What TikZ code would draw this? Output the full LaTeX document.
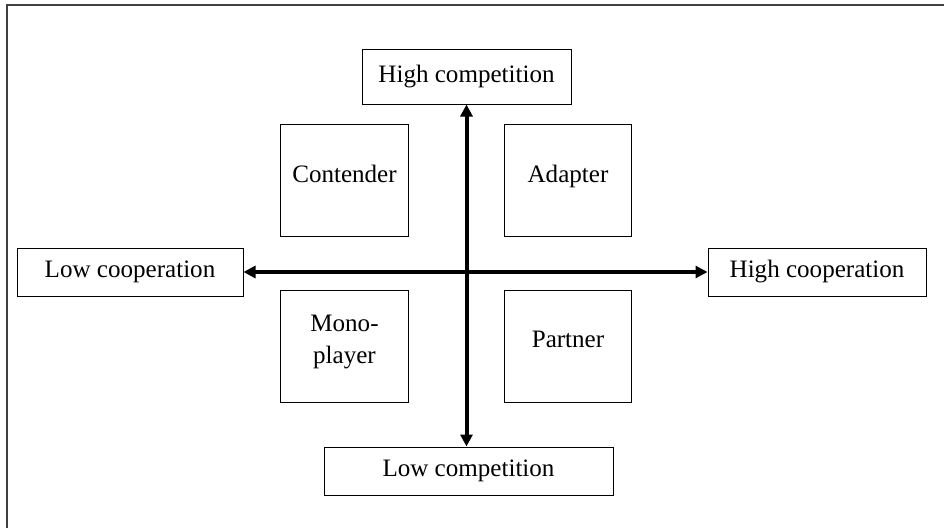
\documentclass[tikz,border=0pt]{standalone}
\usepackage{fontspec}
\setmainfont{Liberation Serif}
\usetikzlibrary{arrows.meta}
\usetikzlibrary{positioning}

\tikzset{
  axisbox/.style={draw, line width=0.75pt, inner sep=2pt},
  quad/.style={draw, line width=0.75pt, align=center, minimum width=95.5pt, minimum height=84pt, text depth=10pt},
  axis/.style={line width=3pt, {Triangle[length=9pt,width=9pt]}-{Triangle[length=9pt,width=9pt]}},
  frame/.style={line width=1pt, black!75}
}

\begin{document}
\begin{tikzpicture}[x=0.75pt, y=-0.75pt, font=\fontsize{18.8}{24}\selectfont]
		\useasboundingbox (0,0) rectangle (944,528);
		%draw outer frame
		\draw[frame] (7,528) -- (7,5) -- (944,5);
		
		%axis ends
		\node[axisbox, minimum width=156.75pt, minimum height=40.5pt] (hicomp) at (466.5,77) {High competition};
		\node[axisbox, minimum width=216.75pt, minimum height=36pt] (locomp) at (468.5,471) {Low competition};
		\node[axisbox, minimum width=169.5pt, minimum height=36pt] (locoop) at (130,272) {Low cooperation};
		\node[axisbox, minimum width=163.5pt, minimum height=36pt] (hicoop) at (817,272) {High cooperation};
		
		%quadrants
		\foreach \name/\x/\y/\txt in {cont/344.5/180/Contender, adapt/568/180/Adapter, mono/344.5/346/{Mono-\\player}, part/568/346/Partner}
		\node[quad] (\name) at (\x,\y) {\txt};
		
		%axes
		\draw[axis] (hicomp.south) -- (hicomp.south |- locomp.north);
		\draw[axis] (locoop.east) -- (hicoop.west);
\end{tikzpicture}
\end{document}
